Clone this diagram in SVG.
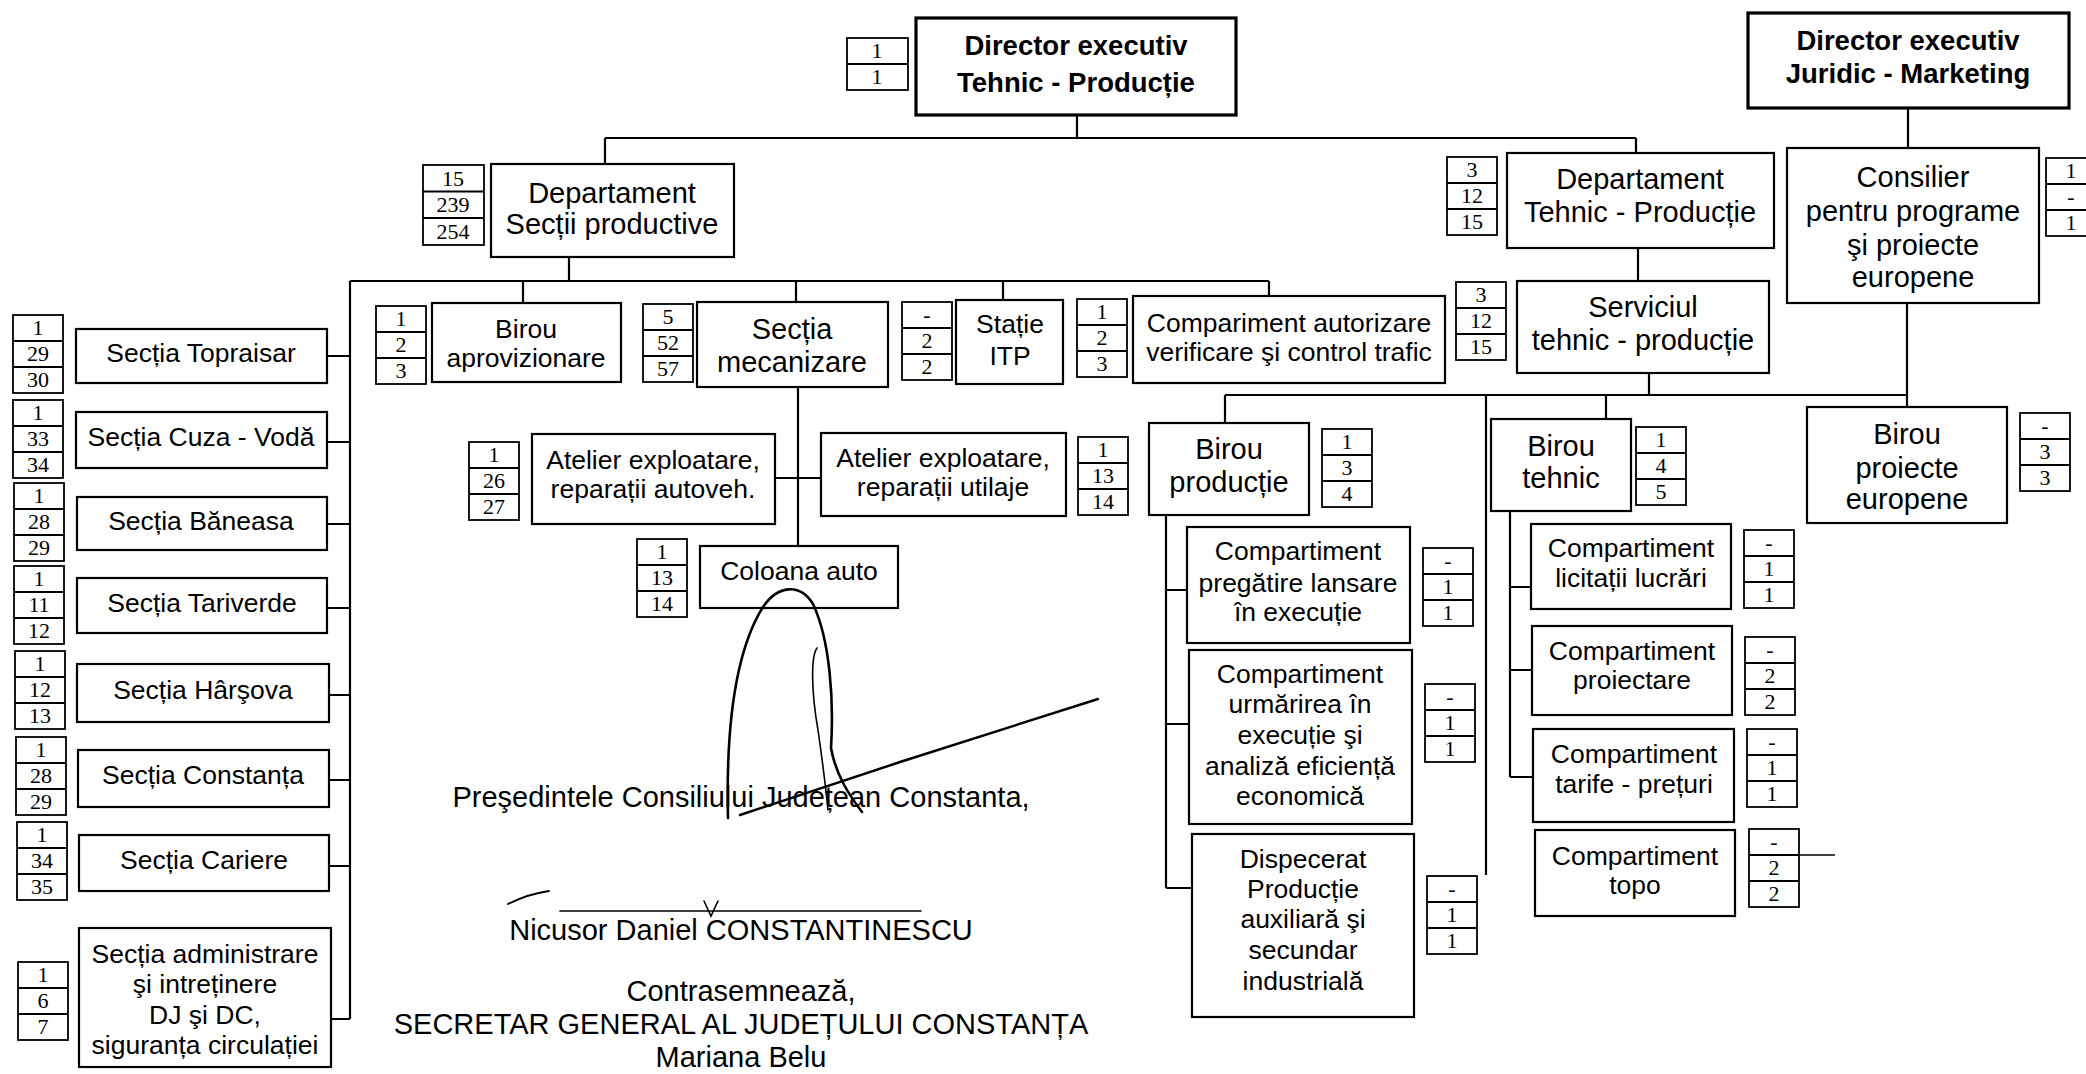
<svg xmlns="http://www.w3.org/2000/svg" xmlns:xlink="http://www.w3.org/1999/xlink" width="2086" height="1074" viewBox="0 0 2086 1074">
<style>
.bx{fill:#fff;stroke:#000;stroke-width:2.2}
.bxb{fill:#fff;stroke:#000;stroke-width:3.2}
.cr{fill:#fff;stroke:#000;stroke-width:1.8}
.cn{fill:none;stroke:#000;stroke-width:2.2}
.t{font-family:"Liberation Sans",Arial,sans-serif;font-size:26.5px;text-anchor:middle;fill:#000}
.tl{font-size:29px}
.tb{font-weight:bold;font-size:27.5px}
.n{font-family:"Liberation Serif","Times New Roman",serif;font-size:22px;text-anchor:middle;fill:#000}
.sg{fill:none;stroke:#000;stroke-linecap:round}
</style>
<defs>
<g id="c3"><rect class="cr" x="0" y="0" width="50" height="78"/><path class="cr" d="M0 26H50M0 52H50"/></g>
</defs>
<rect x="0" y="0" width="2086" height="1074" fill="#fff"/>

<g id="connectors" class="cn">
<path d="M1077 115V138M605 138H1636M605 138V164M1636 138V153"/>
<path d="M1908 108V148"/>
<path d="M569 257V281M350 281H1269M523 281V303M796 281V302M1003 281V300M1269 281V296"/>
<path d="M350 281V1019M327 356H350M327 442H350M327 524H350M327 608H350M329 695H350M329 780H350M329 866H350M331 1019H350"/>
<path d="M798 387V546M775 478H821"/>
<path d="M1638 248V281"/>
<path d="M1649 373V395M1225 395H1907M1225 395V423M1486 395V875M1606 395V419"/>
<path d="M1907 303V407"/>
<path d="M1166 515V888M1166 590H1187M1166 724H1189M1166 888H1192"/>
<path d="M1510 511V777M1510 587H1531M1510 670H1532M1510 777H1533"/>
<path d="M1752 855H1835" stroke-width="1.6"/>
</g>

<g id="dir_tp">
<rect class="bxb" x="916" y="18" width="320" height="97"/>
<text class="t tb" x="1076" y="55">Director executiv</text>
<text class="t tb" x="1076" y="92">Tehnic - Producție</text>
<rect class="cr" x="847" y="38" width="61" height="52"/><path class="cr" d="M847 64H908"/>
<text class="n" x="877" y="58">1</text><text class="n" x="877" y="84">1</text>
</g>

<g id="dir_jm">
<rect class="bxb" x="1748" y="13" width="321" height="95"/>
<text class="t tb" x="1908" y="50">Director executiv</text>
<text class="t tb" x="1908" y="83">Juridic - Marketing</text>
</g>

<g id="dept_sp">
<rect class="bx" x="491" y="164" width="243" height="93"/>
<text class="t tl" x="612" y="203">Departament</text>
<text class="t tl" x="612" y="234">Secții productive</text>
<rect class="cr" x="423" y="165" width="61" height="80"/><path class="cr" d="M423 191.5H484M423 218H484"/>
<text class="n" x="453" y="186">15</text><text class="n" x="453" y="212">239</text><text class="n" x="453" y="239">254</text>
</g>

<g id="dept_tp">
<rect class="bx" x="1507" y="153" width="267" height="95"/>
<text class="t tl" x="1640" y="189">Departament</text>
<text class="t tl" x="1640" y="222">Tehnic - Producție</text>
<use xlink:href="#c3" x="1447" y="157"/>
<text class="n" x="1472" y="177">3</text><text class="n" x="1472" y="203">12</text><text class="n" x="1472" y="229">15</text>
</g>

<g id="consilier">
<rect class="bx" x="1787" y="148" width="252" height="155"/>
<text class="t tl" x="1913" y="187">Consilier</text>
<text class="t tl" x="1913" y="221">pentru programe</text>
<text class="t tl" x="1913" y="255">şi proiecte</text>
<text class="t tl" x="1913" y="287">europene</text>
<use xlink:href="#c3" x="2046" y="158"/>
<text class="n" x="2071" y="178">1</text><text class="n" x="2071" y="204">-</text><text class="n" x="2071" y="230">1</text>
</g>

<g id="serviciul">
<rect class="bx" x="1517" y="281" width="252" height="92"/>
<text class="t tl" x="1643" y="317">Serviciul</text>
<text class="t tl" x="1643" y="350">tehnic - producție</text>
<use xlink:href="#c3" x="1456" y="282"/>
<text class="n" x="1481" y="302">3</text><text class="n" x="1481" y="328">12</text><text class="n" x="1481" y="354">15</text>
</g>

<g id="birou_aprov">
<rect class="bx" x="432" y="303" width="189" height="79"/>
<text class="t" x="526" y="338">Birou</text>
<text class="t" x="526" y="367">aprovizionare</text>
<use xlink:href="#c3" x="376" y="306"/>
<text class="n" x="401" y="326">1</text><text class="n" x="401" y="352">2</text><text class="n" x="401" y="378">3</text>
</g>

<g id="sectia_mecanizare">
<rect class="bx" x="697" y="302" width="191" height="85"/>
<text class="t tl" x="792" y="339">Secția</text>
<text class="t tl" x="792" y="372">mecanizare</text>
<use xlink:href="#c3" x="643" y="304"/>
<text class="n" x="668" y="324">5</text><text class="n" x="668" y="350">52</text><text class="n" x="668" y="376">57</text>
</g>

<g id="statie_itp">
<rect class="bx" x="956" y="300" width="107" height="84"/>
<text class="t" x="1010" y="333">Stație</text>
<text class="t" x="1010" y="365">ITP</text>
<use xlink:href="#c3" x="902" y="302"/>
<text class="n" x="927" y="322">-</text><text class="n" x="927" y="348">2</text><text class="n" x="927" y="374">2</text>
</g>

<g id="comp_autorizare">
<rect class="bx" x="1133" y="296" width="312" height="87"/>
<text class="t" x="1289" y="332">Compariment autorizare</text>
<text class="t" x="1289" y="361">verificare şi control trafic</text>
<use xlink:href="#c3" x="1077" y="299"/>
<text class="n" x="1102" y="319">1</text><text class="n" x="1102" y="345">2</text><text class="n" x="1102" y="371">3</text>
</g>

<g id="atelier_autoveh">
<rect class="bx" x="532" y="434" width="243" height="90"/>
<text class="t" x="653" y="469">Atelier exploatare,</text>
<text class="t" x="653" y="498">reparații autoveh.</text>
<use xlink:href="#c3" x="469" y="442"/>
<text class="n" x="494" y="462">1</text><text class="n" x="494" y="488">26</text><text class="n" x="494" y="514">27</text>
</g>

<g id="atelier_utilaje">
<rect class="bx" x="821" y="433" width="245" height="83"/>
<text class="t" x="943" y="467">Atelier exploatare,</text>
<text class="t" x="943" y="496">reparații utilaje</text>
<use xlink:href="#c3" x="1078" y="437"/>
<text class="n" x="1103" y="457">1</text><text class="n" x="1103" y="483">13</text><text class="n" x="1103" y="509">14</text>
</g>

<g id="coloana_auto">
<rect class="bx" x="700" y="546" width="198" height="62"/>
<text class="t" x="799" y="580">Coloana auto</text>
<use xlink:href="#c3" x="637" y="539"/>
<text class="n" x="662" y="559">1</text><text class="n" x="662" y="585">13</text><text class="n" x="662" y="611">14</text>
</g>

<g id="sectia_topraisar">
<rect class="bx" x="76" y="329" width="251" height="54"/>
<text class="t" x="201" y="362">Secția Topraisar</text>
<use xlink:href="#c3" x="13" y="315"/>
<text class="n" x="38" y="335">1</text><text class="n" x="38" y="361">29</text><text class="n" x="38" y="387">30</text>
</g>
<g id="sectia_cuza_voda">
<rect class="bx" x="76" y="412" width="251" height="56"/>
<text class="t" x="201" y="446">Secția Cuza - Vodă</text>
<use xlink:href="#c3" x="13" y="400"/>
<text class="n" x="38" y="420">1</text><text class="n" x="38" y="446">33</text><text class="n" x="38" y="472">34</text>
</g>
<g id="sectia_baneasa">
<rect class="bx" x="77" y="497" width="250" height="53"/>
<text class="t" x="201" y="530">Secția Băneasa</text>
<use xlink:href="#c3" x="14" y="483"/>
<text class="n" x="39" y="503">1</text><text class="n" x="39" y="529">28</text><text class="n" x="39" y="555">29</text>
</g>
<g id="sectia_tariverde">
<rect class="bx" x="77" y="578" width="250" height="55"/>
<text class="t" x="202" y="612">Secția Tariverde</text>
<use xlink:href="#c3" x="14" y="566"/>
<text class="n" x="39" y="586">1</text><text class="n" x="39" y="612">11</text><text class="n" x="39" y="638">12</text>
</g>
<g id="sectia_harsova">
<rect class="bx" x="77" y="664" width="252" height="58"/>
<text class="t" x="203" y="699">Secția Hârşova</text>
<use xlink:href="#c3" x="15" y="651"/>
<text class="n" x="40" y="671">1</text><text class="n" x="40" y="697">12</text><text class="n" x="40" y="723">13</text>
</g>
<g id="sectia_constanta">
<rect class="bx" x="78" y="750" width="251" height="57"/>
<text class="t" x="203" y="784">Secția Constanța</text>
<use xlink:href="#c3" x="16" y="737"/>
<text class="n" x="41" y="757">1</text><text class="n" x="41" y="783">28</text><text class="n" x="41" y="809">29</text>
</g>
<g id="sectia_cariere">
<rect class="bx" x="79" y="835" width="250" height="56"/>
<text class="t" x="204" y="869">Secția Cariere</text>
<use xlink:href="#c3" x="17" y="822"/>
<text class="n" x="42" y="842">1</text><text class="n" x="42" y="868">34</text><text class="n" x="42" y="894">35</text>
</g>
<g id="sectia_administrare">
<rect class="bx" x="79" y="928" width="252" height="139"/>
<text class="t" x="205" y="963">Secția administrare</text>
<text class="t" x="205" y="993">şi intreținere</text>
<text class="t" x="205" y="1024">DJ şi DC,</text>
<text class="t" x="205" y="1054">siguranța circulației</text>
<use xlink:href="#c3" x="18" y="962"/>
<text class="n" x="43" y="982">1</text><text class="n" x="43" y="1008">6</text><text class="n" x="43" y="1034">7</text>
</g>

<g id="birou_productie">
<rect class="bx" x="1149" y="423" width="160" height="92"/>
<text class="t tl" x="1229" y="459">Birou</text>
<text class="t tl" x="1229" y="492">producție</text>
<use xlink:href="#c3" x="1322" y="429"/>
<text class="n" x="1347" y="449">1</text><text class="n" x="1347" y="475">3</text><text class="n" x="1347" y="501">4</text>
</g>

<g id="comp_pregatire">
<rect class="bx" x="1187" y="527" width="223" height="116"/>
<text class="t" x="1298" y="560">Compartiment</text>
<text class="t" x="1298" y="592">pregătire lansare</text>
<text class="t" x="1298" y="621">în execuție</text>
<use xlink:href="#c3" x="1423" y="548"/>
<text class="n" x="1448" y="568">-</text><text class="n" x="1448" y="594">1</text><text class="n" x="1448" y="620">1</text>
</g>

<g id="comp_urmarire">
<rect class="bx" x="1189" y="650" width="223" height="174"/>
<text class="t" x="1300" y="683">Compartiment</text>
<text class="t" x="1300" y="713">urmărirea în</text>
<text class="t" x="1300" y="744">execuție şi</text>
<text class="t" x="1300" y="775">analiză eficiență</text>
<text class="t" x="1300" y="805">economică</text>
<use xlink:href="#c3" x="1425" y="684"/>
<text class="n" x="1450" y="704">-</text><text class="n" x="1450" y="730">1</text><text class="n" x="1450" y="756">1</text>
</g>

<g id="dispecerat">
<rect class="bx" x="1192" y="834" width="222" height="183"/>
<text class="t" x="1303" y="868">Dispecerat</text>
<text class="t" x="1303" y="898">Producție</text>
<text class="t" x="1303" y="928">auxiliară şi</text>
<text class="t" x="1303" y="959">secundar</text>
<text class="t" x="1303" y="990">industrială</text>
<use xlink:href="#c3" x="1427" y="876"/>
<text class="n" x="1452" y="896">-</text><text class="n" x="1452" y="922">1</text><text class="n" x="1452" y="948">1</text>
</g>

<g id="birou_tehnic">
<rect class="bx" x="1491" y="419" width="140" height="92"/>
<text class="t tl" x="1561" y="456">Birou</text>
<text class="t tl" x="1561" y="488">tehnic</text>
<use xlink:href="#c3" x="1636" y="427"/>
<text class="n" x="1661" y="447">1</text><text class="n" x="1661" y="473">4</text><text class="n" x="1661" y="499">5</text>
</g>

<g id="comp_licitatii">
<rect class="bx" x="1531" y="524" width="200" height="85"/>
<text class="t" x="1631" y="557">Compartiment</text>
<text class="t" x="1631" y="587">licitații lucrări</text>
<use xlink:href="#c3" x="1744" y="530"/>
<text class="n" x="1769" y="550">-</text><text class="n" x="1769" y="576">1</text><text class="n" x="1769" y="602">1</text>
</g>

<g id="comp_proiectare">
<rect class="bx" x="1532" y="626" width="200" height="89"/>
<text class="t" x="1632" y="660">Compartiment</text>
<text class="t" x="1632" y="689">proiectare</text>
<use xlink:href="#c3" x="1745" y="637"/>
<text class="n" x="1770" y="657">-</text><text class="n" x="1770" y="683">2</text><text class="n" x="1770" y="709">2</text>
</g>

<g id="comp_tarife">
<rect class="bx" x="1533" y="729" width="201" height="93"/>
<text class="t" x="1634" y="763">Compartiment</text>
<text class="t" x="1634" y="793">tarife - prețuri</text>
<use xlink:href="#c3" x="1747" y="729"/>
<text class="n" x="1772" y="749">-</text><text class="n" x="1772" y="775">1</text><text class="n" x="1772" y="801">1</text>
</g>

<g id="comp_topo">
<rect class="bx" x="1535" y="830" width="200" height="86"/>
<text class="t" x="1635" y="865">Compartiment</text>
<text class="t" x="1635" y="894">topo</text>
<use xlink:href="#c3" x="1749" y="829"/>
<text class="n" x="1774" y="849">-</text><text class="n" x="1774" y="875">2</text><text class="n" x="1774" y="901">2</text>
</g>

<g id="birou_proiecte">
<rect class="bx" x="1807" y="407" width="200" height="116"/>
<text class="t tl" x="1907" y="444">Birou</text>
<text class="t tl" x="1907" y="478">proiecte</text>
<text class="t tl" x="1907" y="509">europene</text>
<use xlink:href="#c3" x="2020" y="413"/>
<text class="n" x="2045" y="433">-</text><text class="n" x="2045" y="459">3</text><text class="n" x="2045" y="485">3</text>
</g>

<g id="signatures">
<text class="t tl" x="741" y="807">Preşedintele Consiliului Județean Constanta,</text>
<path class="sg" stroke-width="1.6" d="M560 911H921"/>
<text class="t tl" x="741" y="940">Nicusor Daniel CONSTANTINESCU</text>
<text class="t tl" x="741" y="1001">Contrasemnează,</text>
<text class="t tl" x="741" y="1034">SECRETAR GENERAL AL JUDEȚULUI CONSTANȚA</text>
<text class="t tl" x="741" y="1067">Mariana Belu</text>
<path class="sg" stroke-width="2.6" d="M728 818C726 735 733 655 763 607C778 585 800 583 813 604C830 640 834 700 831 748C836 776 850 796 862 812"/>
<path class="sg" stroke-width="1.6" d="M817 648C811 656 811 690 818 730C823 765 826 790 828 810"/>
<path class="sg" stroke-width="2.4" d="M740 815L900 762L1098 699"/>
<path class="sg" stroke-width="1.6" d="M704 901L711 916L718 901"/>
<path class="sg" stroke-width="1.8" d="M508 904C520 898 535 893 549 891"/>
</g>
</svg>
